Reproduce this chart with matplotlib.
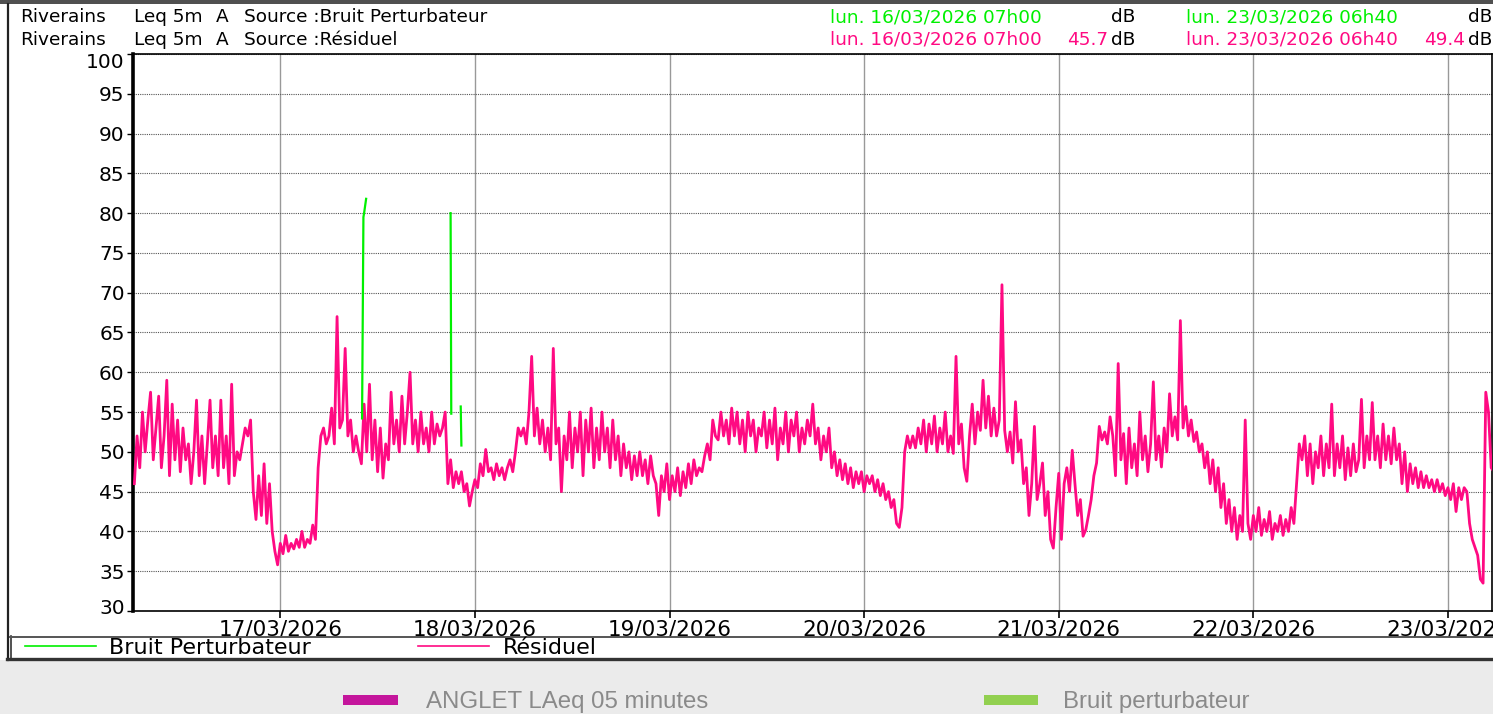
import numpy as np
import pandas as pd
import matplotlib
matplotlib.use('Agg')
import matplotlib.pyplot as plt
import matplotlib.dates as mdates
from matplotlib.lines import Line2D
from matplotlib.patches import Rectangle
import matplotlib.transforms as mtransforms

# ---------------- data ----------------
residuel_start = '2026-03-16 06:00'
residuel_step = '20min'

day_16 = [46, 52, 48, 55, 50, 54, 57.5, 49, 53, 57, 48, 52, 59, 47, 56, 49, 54, 47.5,
          53, 49, 51, 46, 50, 56.5, 47, 52, 46, 51, 56.5, 48, 52, 47, 56.5, 48, 52, 46,
          58.5, 47, 50, 49, 51, 53, 52, 54, 45, 41.5, 47, 42, 48.5, 41, 46, 40, 37.5, 35.8,
          38.5, 37.2, 39.5, 37.5, 38.5, 37.8, 39, 38, 40, 38, 39, 38.5, 40.8, 39, 48, 52, 53, 51]
day_17 = [52, 55.5, 51, 67, 53, 54, 63, 52, 54, 50, 52, 50, 48.5, 56, 50, 58.5, 49, 54,
          47.5, 53, 46.7, 51, 49, 57.5, 51, 54, 50, 57, 51, 55, 60, 51, 54, 50, 55, 51,
          53, 50, 55, 51, 53.5, 52, 53, 55, 46, 49, 45.5, 47.5, 46, 47.5, 45, 46, 43.2, 45,
          46.5, 45.5, 48.5, 47, 50.3, 47.5, 48, 46.5, 48.5, 47, 48, 46.5, 48, 49, 47.5, 50, 53, 52]
day_18 = [53, 51, 55, 62, 52, 55.5, 51, 54, 50, 53, 49, 63, 51, 53, 45, 52, 49, 55,
          48, 53, 50, 55, 47, 54, 50, 55.5, 48, 53, 49, 55, 50, 53, 48, 54, 49, 52,
          47, 51, 48, 50, 46.5, 49.5, 47, 50, 47, 49, 46, 49.5, 47, 46, 42, 47, 45, 48.5,
          44, 47, 45, 48, 44.5, 47.5, 45.5, 48.5, 46, 49, 47, 48, 47.5, 49.5, 51, 49, 54, 52]
day_19 = [51.5, 55, 52, 54, 51, 55.5, 52, 55, 51, 54, 50, 55, 52, 54, 50, 53, 52, 55,
          50.5, 54, 51, 55.5, 49, 53, 51, 55, 50, 54, 52, 55, 50, 53, 51, 54, 52, 56,
          51, 53, 49, 52, 50, 53, 48, 50, 47, 49, 46.5, 48.5, 46, 48, 45.5, 47.5, 46, 47.5,
          45, 47, 46, 47, 45, 46.5, 44.5, 46, 44, 45, 43, 44, 41, 40.5, 43, 50, 52, 50.5]
day_20 = [52, 50.5, 53, 51, 54, 50, 53.5, 51, 54.5, 50, 53, 51, 55, 50, 52, 49.8, 62, 51,
          53.5, 48, 46.3, 52, 56, 51, 55, 52.7, 59, 53, 57, 52, 55.5, 52, 54, 71, 52.7, 50,
          52.5, 48.6, 56.3, 50, 51.5, 46, 48, 42, 46, 53.2, 44, 46, 48.6, 42, 45, 39, 37.9, 43,
          47.3, 39, 46, 48, 45, 50.2, 46, 42, 44, 39.4, 40.2, 42, 44, 47, 48.6, 53.2, 51.5, 52.5]
day_21 = [51, 54.4, 52, 47, 61.1, 49, 52.3, 46, 53, 48, 51, 47, 55, 49, 52, 47.5, 51, 58.8,
          49, 52, 48.1, 53, 50, 57.3, 52, 54.4, 51.5, 66.5, 53, 55.7, 52, 54, 51.3, 52.5, 50, 51,
          48, 50, 46, 49, 45, 48, 43, 46, 41, 44, 40, 43, 39, 42, 40, 54, 41, 39,
          42, 40, 43, 39.5, 41.5, 40, 42.5, 39, 41, 40, 42, 39.5, 41.5, 40, 43, 41, 46, 51]
day_22 = [49, 52, 47, 51, 46, 50, 48, 52, 47, 51, 48, 56, 47, 51, 48, 52, 46.5, 50.5,
          47, 51, 47.5, 49, 56.6, 48, 52, 49, 56.2, 49, 52, 48, 53.5, 49, 52, 48.5, 53, 49,
          51, 46, 50, 45, 48.5, 46, 48, 45.5, 47.5, 45.5, 47, 45.5, 46.5, 45, 46.5, 45, 46, 44.5,
          45.5, 44, 46, 42.5, 45.5, 44, 45.5, 45, 41, 39, 38, 37, 34, 33.5, 57.5, 55, 48, 47.5]

residuel = day_16 + day_17 + day_18 + day_19 + day_20 + day_21 + day_22

bruit_times = ['2026-03-17 10:05', '2026-03-17 10:15', '2026-03-17 10:20', '2026-03-17 10:35',
               '2026-03-17 10:40',
               '2026-03-17 21:00', '2026-03-17 21:05', '2026-03-17 21:10',
               '2026-03-17 22:15', '2026-03-17 22:20']
bruit_vals = [54.2, 79.5, 80.0, 81.8, np.nan, 80.0, 54.8, np.nan, 55.7, 50.8]

day_ticks = ['2026-03-17', '2026-03-18', '2026-03-19', '2026-03-20',
             '2026-03-21', '2026-03-22', '2026-03-23']
y_ticks = [30, 35, 40, 45, 50, 55, 60, 65, 70, 75, 80, 85, 90, 95, 100]

# ---------------- figure ----------------
W, H = 1493, 714
def fx(x): return x / W
def fy(y): return 1 - y / H

PINK = '#ff0a82'
GREEN = '#00f000'
plt.rcParams['font.family'] = ['DejaVu Sans']

fig = plt.figure(figsize=(W / 100, H / 100), dpi=100)
fig.patch.set_facecolor('white')

# background pieces
fig.patches.append(Rectangle((0, 0), 1, fy(660), transform=fig.transFigure,
                             facecolor='#ebebeb', edgecolor='none', zorder=0))
fig.patches.append(Rectangle((0, fy(4)), 1, 4 / H, transform=fig.transFigure,
                             facecolor='#505050', edgecolor='none', zorder=0))
fig.add_artist(Line2D([fx(8), fx(8)], [fy(4), fy(660)], color='#222222', lw=1.6))
fig.add_artist(Line2D([fx(10.5), fx(10.5)], [fy(636), fy(660)], color='#333333', lw=1.2))
fig.add_artist(Line2D([fx(10), 1], [fy(636.5), fy(636.5)], color='#555555', lw=1.4))
fig.add_artist(Line2D([fx(7), 1], [fy(659), fy(659)], color='#333333', lw=2.4))

ax = fig.add_axes([fx(133), fy(611), (1492 - 133) / W, (611 - 54) / H])
ax.set_facecolor('white')

t_res = pd.date_range(residuel_start, periods=len(residuel), freq=residuel_step)
t_bruit = pd.to_datetime(bruit_times)
l_res, = ax.plot(t_res, residuel, color=PINK, lw=2.0, zorder=3)
l_br, = ax.plot(t_bruit, bruit_vals, color=GREEN, lw=1.6, zorder=4)

ax.set_xlim(pd.Timestamp('2026-03-16 05:50'), pd.Timestamp('2026-03-23 05:26'))
ax.set_ylim(30, 100)
ax.set_yticks(y_ticks)
ax.set_xticks(pd.to_datetime(day_ticks))
ax.xaxis.set_major_formatter(mdates.DateFormatter('%d/%m/%Y'))

ax.yaxis.grid(True, linestyle=(0, (1, 1)), color='#555555', lw=0.8)
ax.xaxis.grid(True, linestyle='-', color='#999999', lw=1.0)
ax.set_axisbelow(True)

ax.tick_params(axis='y', direction='out', length=4, width=1, pad=2, labelsize=14.5, colors='black')
ax.tick_params(axis='x', direction='out', length=5, width=1.2, pad=1, labelsize=15.5, colors='black')
for s in ['top', 'right', 'bottom']:
    ax.spines[s].set_linewidth(1.2)
ax.spines['left'].set_linewidth(2.6)

# nudge extreme y labels like the original
lbls = ax.get_yticklabels()
lbls[0].set_transform(lbls[0].get_transform() + mtransforms.ScaledTranslation(0, 5 / 100, fig.dpi_scale_trans))
lbls[-1].set_transform(lbls[-1].get_transform() + mtransforms.ScaledTranslation(0, -7 / 100, fig.dpi_scale_trans))

# header texts
hs = 13.3
def T(x, y, s, c='black', ha='left'):
    fig.text(fx(x), fy(y), s, color=c, fontsize=hs, ha=ha, va='center')

T(20, 17, 'Riverains'); T(134, 17, 'Leq 5m'); T(216, 17, 'A'); T(244, 17, 'Source :Bruit Perturbateur')
T(20, 40, 'Riverains'); T(134, 40, 'Leq 5m'); T(216, 40, 'A'); T(244, 40, 'Source :Résiduel')
T(830, 17, 'lun. 16/03/2026 07h00', GREEN); T(1135, 17, 'dB', ha='right')
T(1186, 17, 'lun. 23/03/2026 06h40', GREEN); T(1492, 17, 'dB', ha='right')
T(830, 40, 'lun. 16/03/2026 07h00', PINK); T(1108, 40, '45.7', PINK, ha='right'); T(1135, 40, 'dB', ha='right')
T(1186, 40, 'lun. 23/03/2026 06h40', PINK); T(1465, 40, '49.4', PINK, ha='right'); T(1492, 40, 'dB', ha='right')

# legend
h1 = Line2D([], [], color=GREEN, lw=1.2)
h2 = Line2D([], [], color=PINK, lw=1.2)
fig.legend([h1, h2], ['Bruit Perturbateur', 'Résiduel'], loc='center left',
           bbox_to_anchor=(fx(25), fy(648)), ncol=2, frameon=False, fontsize=16,
           handlelength=3.2, handletextpad=0.6, columnspacing=4.8,
           borderpad=0, borderaxespad=0)

# bottom outer legend
fig.patches.append(Rectangle((fx(343), fy(705)), 55 / W, 10 / H, transform=fig.transFigure,
                             facecolor='#c4169c', edgecolor='none'))
fig.patches.append(Rectangle((fx(984), fy(705)), 54 / W, 10 / H, transform=fig.transFigure,
                             facecolor='#92d050', edgecolor='none'))
fam = ['Liberation Sans Narrow', 'Liberation Sans', 'DejaVu Sans']
fig.text(fx(426), fy(708), 'ANGLET LAeq 05 minutes', color='#8a8a8a', fontsize=17.3,
         family=fam, ha='left', va='baseline')
fig.text(fx(1063), fy(708), 'Bruit perturbateur', color='#8a8a8a', fontsize=17.3,
         family=fam, ha='left', va='baseline')

fig.savefig('out.png', dpi=100)
